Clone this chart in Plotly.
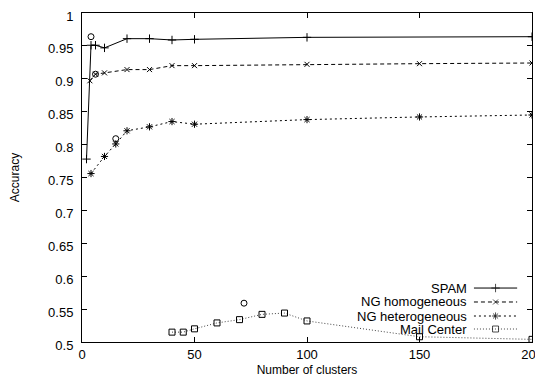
import plotly.graph_objects as go

# ---- data ----
spam_x = [2, 4, 6, 10, 20, 30, 40, 50, 100, 200]
spam_y = [0.778, 0.951, 0.951, 0.947, 0.961, 0.961, 0.959, 0.960, 0.963, 0.964]

ngho_x = [3.5, 6, 10, 20, 30, 40, 50, 100, 150, 200]
ngho_y = [0.897, 0.907, 0.909, 0.914, 0.914, 0.920, 0.920, 0.922, 0.923, 0.924]

nghe_x = [4, 10, 15, 20, 30, 40, 50, 100, 150, 200]
nghe_y = [0.756, 0.782, 0.801, 0.821, 0.827, 0.835, 0.831, 0.838, 0.842, 0.845]

mail_x = [40, 45, 50, 60, 70, 80, 90, 100, 150, 200]
mail_y = [0.515, 0.515, 0.520, 0.529, 0.534, 0.542, 0.544, 0.532, 0.508, 0.504]

circ_x = [4, 6, 15, 72]
circ_y = [0.964, 0.907, 0.809, 0.559]

series_names = ["SPAM", "NG homogeneous", "NG heterogeneous", "Mail Center"]
y_ticks = [0.5, 0.55, 0.6, 0.65, 0.7, 0.75, 0.8, 0.85, 0.9, 0.95, 1.0]
y_tick_text = ["0.5", "0.55", "0.6", "0.65", "0.7", "0.75", "0.8", "0.85", "0.9", "0.95", "1"]
x_ticks = [0, 50, 100, 150, 200]

# ---- styles ----
styles = [
    dict(dash="solid", color="black", symbol="cross-thin", size=6),
    dict(dash="4px,3px", color="black", symbol="x-thin", size=5),
    dict(dash="2px,3px", color="black", symbol="asterisk", size=6),
    dict(dash="1px,2px", color="#444444", symbol="square-open", size=6),
]

FONT = "Liberation Sans, Arial, sans-serif"
fig = go.Figure()

data = [(spam_x, spam_y), (ngho_x, ngho_y), (nghe_x, nghe_y), (mail_x, mail_y)]
for (xs, ys), name, st in zip(data, series_names, styles):
    fig.add_trace(go.Scatter(
        x=xs, y=ys, mode="lines+markers", name=name, showlegend=False,
        line=dict(color=st["color"], width=1, dash=st["dash"]),
        marker=dict(symbol=st["symbol"], size=st["size"], color="black",
                    line=dict(color="black", width=1)),
    ))

fig.add_trace(go.Scatter(
    x=circ_x, y=circ_y, mode="markers", showlegend=False,
    marker=dict(symbol="circle-open", size=6, color="black",
                line=dict(color="black", width=1)),
))

# ---- custom gnuplot-style legend (text left, sample right) ----
leg_rows = [0.164, 0.1216, 0.079, 0.0395]
for name, st, ry in zip(series_names, styles, leg_rows):
    fig.add_trace(go.Scatter(
        x=[0.871, 0.919, 0.967], y=[ry, ry, ry], mode="lines+markers",
        xaxis="x2", yaxis="y2", showlegend=False, hoverinfo="skip",
        line=dict(color=st["color"], width=1, dash=st["dash"]),
        marker=dict(symbol=st["symbol"], size=[0, st["size"], 0], color="black",
                    line=dict(color="black", width=1)),
    ))
    fig.add_annotation(x=0.86, y=ry, xref="paper", yref="paper", text=name,
                       showarrow=False, xanchor="right", yanchor="middle",
                       font=dict(family=FONT, size=13, color="black"))

axis_common = dict(showline=True, linecolor="black", linewidth=1, mirror="ticks",
                   ticks="inside", ticklen=5, tickcolor="black", showgrid=False,
                   zeroline=False, automargin=False, ticklabeloverflow="allow",
                   tickfont=dict(family=FONT, size=13, color="black"))

# the page body adds an 8px offset, so the figure is sized to fit the window
fig.update_layout(
    width=535, height=375,
    margin=dict(l=74, r=11, t=5, b=41),
    paper_bgcolor="white", plot_bgcolor="white",
    font=dict(family=FONT, size=13, color="black"),
    xaxis=dict(range=[0, 200], tickvals=x_ticks, **axis_common,
               title=dict(text="Number of clusters", standoff=5,
                          font=dict(family=FONT, size=12))),
    yaxis=dict(range=[0.5, 1.0], tickvals=y_ticks, ticktext=y_tick_text,
               ticklabelstandoff=5, ticklabelshift=3, **axis_common,
               title=dict(text="Accuracy", standoff=27,
                          font=dict(family=FONT, size=12))),
    xaxis2=dict(range=[0, 1], overlaying="x", visible=False, fixedrange=True),
    yaxis2=dict(range=[0, 1], overlaying="y", visible=False, fixedrange=True),
    showlegend=False,
)

fig.write_html("out.html")
